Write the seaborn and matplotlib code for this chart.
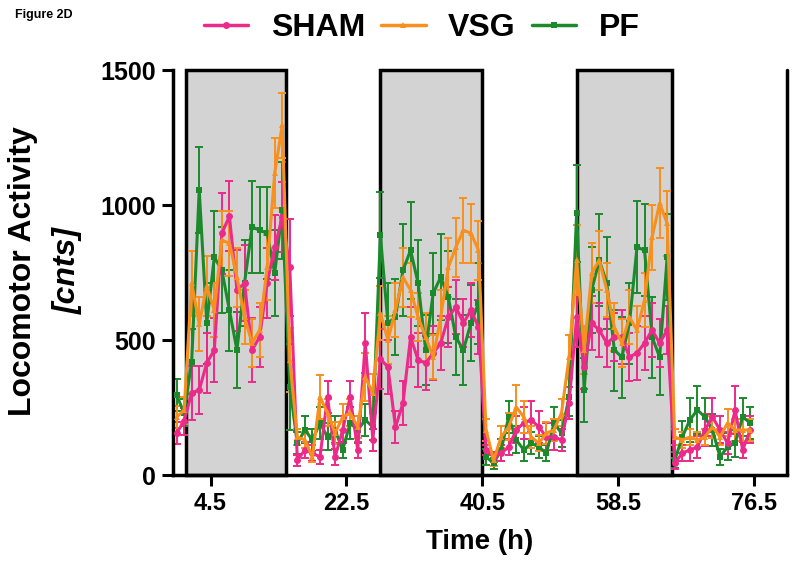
import numpy as np
import pandas as pd
import matplotlib.pyplot as plt
import seaborn as sns
from matplotlib.lines import Line2D

# time points (h) and group means / SEM
hours = list(range(0, 77))

sham = [155, 200, 304, 315, 415, 463, 896, 959, 685, 711, 463, 511, 711, 844, 955, 770,
        55, 93, 81, 67, 289, 67, 167, 289, 93, 489, 130,
        430, 400, 178, 267, 511, 426, 415, 452, 489, 585, 622, 563, 611, 548,
        93, 67, 81, 104, 167, 193, 204, 178, 141, 141, 130, 267,
        585, 400, 563, 537, 489, 511, 511, 437, 452, 489, 537, 489, 537,
        44, 81, 93, 104, 167, 215, 167, 118, 241, 93, 167]
sham_err = [40, 50, 100, 90, 110, 120, 150, 130, 150, 140, 120, 110, 130, 120, 130, 180,
            20, 30, 30, 25, 60, 30, 50, 60, 30, 110, 40,
            110, 100, 60, 80, 110, 100, 100, 100, 100, 110, 100, 90, 100, 100,
            20, 20, 30, 30, 50, 60, 70, 60, 50, 50, 40, 60,
            110, 80, 100, 100, 90, 90, 100, 90, 100, 100, 100, 90, 90,
            20, 30, 40, 40, 60, 70, 50, 40, 90, 30, 50]

vsg = [215, 240, 711, 560, 700, 611, 870, 859, 733, 585, 489, 537, 770, 1118, 1296, 426,
       141, 130, 67, 289, 230, 155, 215, 230, 178, 363, 304,
       600, 500, 611, 733, 685, 585, 511, 437, 585, 770, 844, 907, 896, 833,
       167, 55, 141, 178, 252, 215, 141, 118, 155, 167, 230, 437,
       796, 463, 748, 796, 685, 548, 489, 585, 537, 648, 881, 1007, 933,
       141, 130, 141, 130, 141, 178, 141, 193, 167, 167, 167]
vsg_err = [40, 50, 120, 100, 110, 100, 110, 120, 110, 100, 90, 100, 120, 130, 120, 120,
           30, 30, 20, 80, 50, 40, 50, 50, 40, 90, 70,
           100, 90, 100, 110, 100, 90, 90, 80, 100, 110, 110, 120, 110, 110,
           40, 20, 40, 50, 80, 60, 40, 30, 40, 40, 50, 80,
           130, 90, 110, 110, 100, 90, 90, 100, 90, 100, 120, 130, 120,
           30, 30, 30, 30, 30, 40, 30, 50, 40, 40, 40]

pf = [296, 230, 420, 1056, 563, 807, 759, 611, 463, 711, 919, 907, 896, 748, 981, 326,
      118, 167, 130, 193, 141, 167, 93, 193, 167, 204, 178,
      889, 563, 585, 759, 833, 711, 463, 674, 733, 659, 511, 463, 563, 637,
      67, 44, 93, 215, 130, 93, 118, 104, 81, 193, 155, 289,
      970, 315, 685, 796, 711, 463, 437, 563, 844, 833, 511, 437, 807,
      55, 141, 204, 241, 215, 167, 67, 104, 118, 215, 193]
pf_err = [60, 50, 120, 160, 150, 170, 160, 150, 140, 160, 170, 160, 170, 160, 180, 160,
          40, 50, 40, 60, 50, 50, 30, 60, 50, 60, 50,
          160, 150, 140, 170, 180, 160, 130, 150, 160, 170, 140, 130, 140, 150,
          30, 20, 40, 60, 50, 40, 40, 40, 30, 60, 50, 70,
          180, 120, 160, 170, 170, 150, 150, 150, 170, 170, 150, 140, 160,
          30, 60, 80, 90, 70, 60, 30, 50, 50, 70, 60]

groups = ['SHAM', 'VSG', 'PF']
colors = {'SHAM': '#EC2A8A', 'VSG': '#F7901E', 'PF': '#1C8A2C'}
markers = {'SHAM': 'o', 'VSG': '^', 'PF': 's'}
dark_periods = [(1.3, 14.55), (26.9, 40.4), (53.1, 65.6)]
xticks = [4.5, 22.5, 40.5, 58.5, 76.5]
yticks = [0, 500, 1000, 1500]

df = pd.concat([
    pd.DataFrame({'time': hours, 'activity': sham, 'sem': sham_err, 'group': 'SHAM'}),
    pd.DataFrame({'time': hours, 'activity': vsg, 'sem': vsg_err, 'group': 'VSG'}),
    pd.DataFrame({'time': hours, 'activity': pf, 'sem': pf_err, 'group': 'PF'}),
])

sns.set_theme(style='ticks')
plt.rcParams['font.family'] = ['Liberation Sans', 'DejaVu Sans']
plt.rcParams['font.weight'] = 'bold'
plt.rcParams['text.color'] = 'black'
plt.rcParams['axes.labelcolor'] = 'black'
plt.rcParams['xtick.color'] = 'black'
plt.rcParams['ytick.color'] = 'black'

fig = plt.figure(figsize=(8, 5.85), dpi=100)
ax = fig.add_axes([0.216, 0.188, 0.768, 0.692])

# dark phases
for x0, x1 in dark_periods:
    ax.axvspan(x0, x1, facecolor='#d3d3d3', edgecolor='black', linewidth=2.5,
               zorder=0.5, clip_on=False)
ax.axvline(80.9, color='black', linewidth=2.5, clip_on=False, zorder=0.6)

# error bars then lines, orange ends on top
for g in ['PF', 'SHAM', 'VSG']:
    sub = df[df['group'] == g]
    ax.errorbar(sub['time'], sub['activity'], yerr=sub['sem'], fmt='none',
                ecolor=colors[g], elinewidth=1.4, capsize=3, capthick=1.4, zorder=2)

sns.lineplot(data=df, x='time', y='activity', hue='group', style='group',
             hue_order=['PF', 'SHAM', 'VSG'], palette=colors, markers=markers,
             dashes=False, linewidth=2.2, markersize=5, markeredgewidth=0,
             legend=False, ax=ax, zorder=3)

ax.set_xlim(-0.5, 80.9)
ax.set_ylim(0, 1500)
ax.set_xticks(xticks)
ax.set_xticklabels([str(x) for x in xticks], fontsize=17, fontweight='bold')
ax.set_yticks(yticks)
ax.set_yticklabels([str(y) for y in yticks], fontsize=18, fontweight='bold')
ax.tick_params(direction='out', length=8, width=2.2, color='black', labelcolor='black', pad=4)
for side in ['top', 'right']:
    ax.spines[side].set_visible(False)
for side in ['left', 'bottom']:
    ax.spines[side].set_linewidth(2.5)
    ax.spines[side].set_color('black')

ax.set_xlabel('Time (h)', fontsize=20, fontweight='bold', labelpad=10, color='black')
ax.set_ylabel('')

fig.text(0.029, 0.537, 'Locomotor Activity', rotation=90, ha='center', va='center',
         fontsize=23, fontweight='bold', color='black')
fig.text(0.085, 0.537, '[cnts]', rotation=90, ha='center', va='center',
         fontsize=23, fontweight='bold', style='italic', color='black')

fig.text(0.019, 0.984, 'Figure 2D', ha='left', va='top', fontsize=9, fontweight='bold',
         color='black')

handles = [Line2D([0], [0], color=colors[g], marker=markers[g], markersize=5,
                  markeredgewidth=0, linewidth=2.5) for g in groups]
leg = fig.legend(handles, groups, loc='center', bbox_to_anchor=(0.527, 0.952), ncol=3,
                 frameon=False, prop={'weight': 'bold', 'size': 23}, handlelength=1.4,
                 handletextpad=0.7, columnspacing=0.5)
for txt in leg.get_texts():
    txt.set_color('black')

fig.savefig('out.png', dpi=100)
